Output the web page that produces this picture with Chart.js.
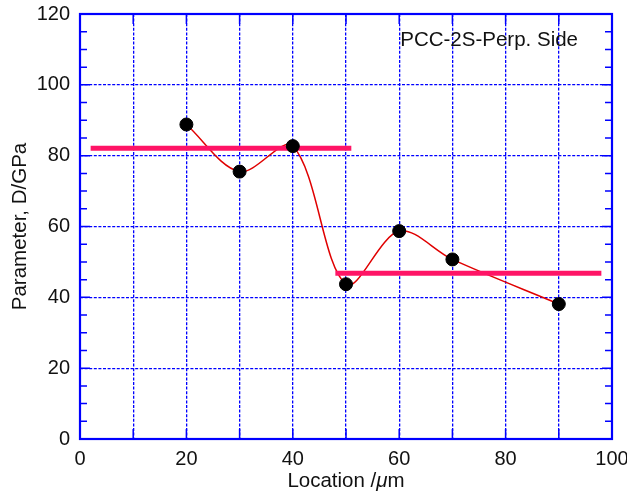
<!DOCTYPE html>
<html><head><meta charset="utf-8">
<script src="https://cdn.jsdelivr.net/npm/chart.js@4/dist/chart.umd.min.js"></script>
<style>html,body{margin:0;padding:0;background:#fff}#wrap{width:627px;height:495px}</style>
</head><body><div id="wrap"><canvas id="c" width="627" height="495"></canvas></div>
<script>
// ---- data ----
const locations = [20, 30, 40, 50, 60, 70, 90];
const params = [88.8, 75.5, 82.7, 43.7, 58.7, 50.7, 38.1];
const avgLeftX = [2, 51];
const avgLeftY = [82.1, 82.1];
const avgRightX = [48, 98];
const avgRightY = [46.8, 46.8];
const xTickLabels = [0, 20, 40, 60, 80, 100];
const yTickLabels = [0, 20, 40, 60, 80, 100, 120];
const annotationText = 'PCC-2S-Perp. Side';
const annotationPos = [60.2, 110.9];
const yTitle = 'Parameter, D/GPa';
const xTitleParts = [['Location /', false], ['\u03bc', true], ['m', false]];

const BLUE = '#0000ff';
const FONT = '"Liberation Sans", Arial, sans-serif';
const TXT = '20.5px ';
const pts = (xs, ys) => xs.map((x, i) => ({x, y: ys[i]}));

const framePlugin = {
  id: 'frame',
  afterDraw(chart) {
    const {ctx, chartArea: a, scales} = chart;
    const xs = scales.x, ys = scales.y;
    ctx.save();
    ctx.strokeStyle = BLUE; ctx.lineWidth = 1.5; ctx.setLineDash([]);
    ys.ticks.forEach(t => {
      const y = ys.getPixelForValue(t.value);
      const len = (t.value % 20 === 0) ? 10 : 7;
      ctx.beginPath();
      ctx.moveTo(a.left, y); ctx.lineTo(a.left + len, y);
      ctx.moveTo(a.right, y); ctx.lineTo(a.right - len, y);
      ctx.stroke();
    });
    xs.ticks.forEach(t => {
      const x = xs.getPixelForValue(t.value);
      ctx.beginPath();
      ctx.moveTo(x, a.bottom); ctx.lineTo(x, a.bottom - 10);
      ctx.moveTo(x, a.top); ctx.lineTo(x, a.top + 10);
      ctx.stroke();
    });
    ctx.lineWidth = 2.2;
    ctx.strokeRect(a.left, a.top, a.right - a.left, a.bottom - a.top);
    ctx.fillStyle = '#111';
    ctx.font = TXT + FONT;
    ctx.textAlign = 'left'; ctx.textBaseline = 'alphabetic';
    ctx.fillText(annotationText, xs.getPixelForValue(annotationPos[0]), ys.getPixelForValue(annotationPos[1]));
    const fonts = it => (it ? 'italic ' : '') + TXT + FONT;
    let total = 0;
    xTitleParts.forEach(([s, it]) => { ctx.font = fonts(it); total += ctx.measureText(s).width; });
    let cx = (a.left + a.right) / 2 - total / 2;
    xTitleParts.forEach(([s, it]) => { ctx.font = fonts(it); ctx.fillText(s, cx, 487); cx += ctx.measureText(s).width; });
    ctx.save();
    ctx.translate(25.5, (a.top + a.bottom) / 2);
    ctx.rotate(-Math.PI / 2);
    ctx.font = TXT + FONT; ctx.textAlign = 'center';
    ctx.fillText(yTitle, 0, 0);
    ctx.restore();
    ctx.restore();
  }
};

new Chart(document.getElementById('c'), {
  type: 'scatter',
  data: {
    datasets: [
      { data: pts(locations, params), showLine: false, pointRadius: 6.5, pointHoverRadius: 6.5,
        backgroundColor: '#000', borderColor: '#000' },
      { data: pts(avgLeftX, avgLeftY), showLine: true, pointRadius: 0, borderColor: '#ff1466', borderWidth: 5, borderCapStyle: 'butt' },
      { data: pts(avgRightX, avgRightY), showLine: true, pointRadius: 0, borderColor: '#ff1466', borderWidth: 5, borderCapStyle: 'butt' },
      { data: pts(locations, params), showLine: true, pointRadius: 0, borderColor: '#e00000', borderWidth: 1.5, tension: 0.33 }
    ]
  },
  options: {
    responsive: false, animation: false, devicePixelRatio: 1,
    layout: { padding: { top: 14, right: 15, left: 0, bottom: 0 } },
    plugins: { legend: { display: false }, tooltip: { enabled: false } },
    scales: {
      x: {
        type: 'linear', min: 0, max: 100,
        afterFit(s) { s.height = 56; s.paddingLeft = 0; s.paddingRight = 0; },
        ticks: { stepSize: 10, padding: 8, color: '#111', font: { size: 20, family: FONT },
          callback: v => xTickLabels.includes(v) ? String(v) : '' , maxRotation: 0, autoSkip: false },
        grid: { color: BLUE, lineWidth: 1.3, drawTicks: false },
        border: { display: false, dash: [3, 1.6] }
      },
      y: {
        type: 'linear', min: 0, max: 120,
        afterFit(s) { s.width = 80; s.paddingTop = 0; s.paddingBottom = 0; },
        ticks: { stepSize: 5, padding: 10, color: '#111', font: { size: 20, family: FONT },
          callback: v => yTickLabels.includes(v) ? String(v) : '', autoSkip: false },
        grid: { color: c => (c.tick && c.tick.value % 20 === 0) ? BLUE : 'rgba(0,0,0,0)', lineWidth: 1.3, drawTicks: false },
        border: { display: false, dash: [3, 1.6] }
      }
    }
  },
  plugins: [framePlugin]
});
</script></body></html>
